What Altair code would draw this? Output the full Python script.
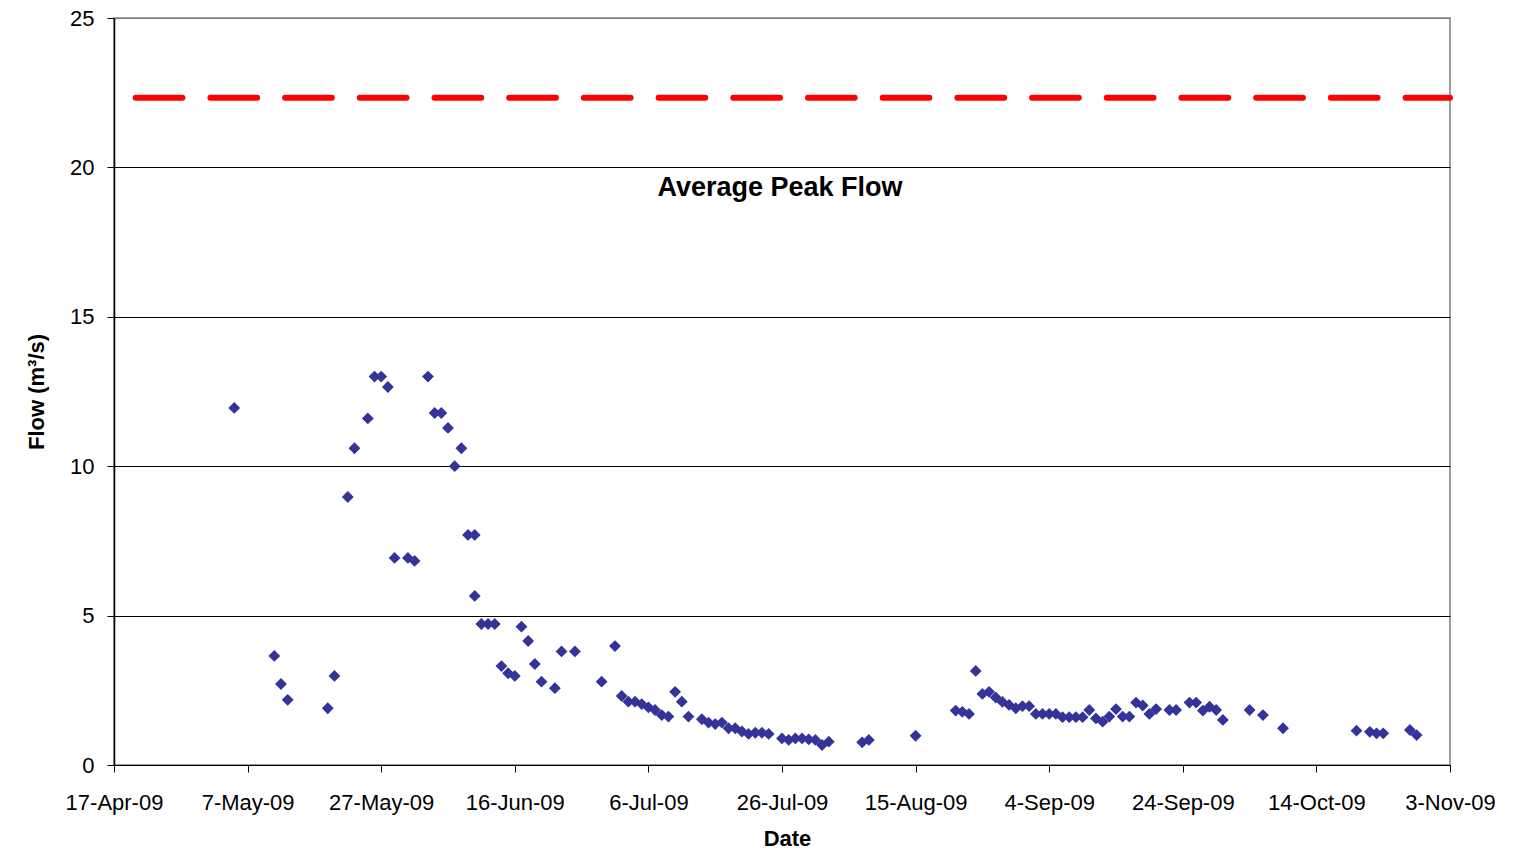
import altair as alt
import pandas as pd

# ---- data ----
dates = [
    "2009-05-05", "2009-05-11", "2009-05-12", "2009-05-13", "2009-05-19", "2009-05-20",
    "2009-05-22", "2009-05-23", "2009-05-25", "2009-05-26", "2009-05-27", "2009-05-28",
    "2009-05-29", "2009-05-31", "2009-06-01", "2009-06-03", "2009-06-04", "2009-06-05",
    "2009-06-06", "2009-06-07", "2009-06-08", "2009-06-09", "2009-06-10", "2009-06-10",
    "2009-06-11", "2009-06-12", "2009-06-13", "2009-06-14", "2009-06-15", "2009-06-16",
    "2009-06-17", "2009-06-18", "2009-06-19", "2009-06-20", "2009-06-22", "2009-06-23",
    "2009-06-25", "2009-06-29", "2009-07-01", "2009-07-02", "2009-07-03", "2009-07-04",
    "2009-07-05", "2009-07-06", "2009-07-07", "2009-07-08", "2009-07-09", "2009-07-10",
    "2009-07-11", "2009-07-12", "2009-07-14", "2009-07-15", "2009-07-16", "2009-07-17",
    "2009-07-18", "2009-07-19", "2009-07-20", "2009-07-21", "2009-07-22", "2009-07-23",
    "2009-07-24", "2009-07-26", "2009-07-27", "2009-07-28", "2009-07-29", "2009-07-30",
    "2009-07-31", "2009-08-01", "2009-08-02", "2009-08-07", "2009-08-08", "2009-08-15",
    "2009-08-21", "2009-08-22", "2009-08-23", "2009-08-24", "2009-08-25", "2009-08-26",
    "2009-08-27", "2009-08-28", "2009-08-29", "2009-08-30", "2009-08-31", "2009-09-01",
    "2009-09-02", "2009-09-03", "2009-09-04", "2009-09-05", "2009-09-06", "2009-09-07",
    "2009-09-08", "2009-09-09", "2009-09-10", "2009-09-11", "2009-09-12", "2009-09-13",
    "2009-09-14", "2009-09-15", "2009-09-16", "2009-09-17", "2009-09-18", "2009-09-19",
    "2009-09-20", "2009-09-22", "2009-09-23", "2009-09-25", "2009-09-26", "2009-09-27",
    "2009-09-28", "2009-09-29", "2009-09-30", "2009-10-04", "2009-10-06", "2009-10-09",
    "2009-10-20", "2009-10-22", "2009-10-23", "2009-10-24", "2009-10-28", "2009-10-29",
]
flow = [
    11.95, 3.65, 2.71, 2.18, 1.90, 2.98,
    8.97, 10.6, 11.6, 13.0, 13.0, 12.65,
    6.93, 6.93, 6.83, 13.0, 11.78, 11.78,
    11.28, 10.0, 10.6, 7.7, 7.7, 5.66,
    4.72, 4.72, 4.72, 3.31, 3.07, 2.98,
    4.63, 4.15, 3.38, 2.79, 2.57, 3.80,
    3.80, 2.79, 3.98, 2.31, 2.12, 2.12,
    2.04, 1.93, 1.84, 1.67, 1.62, 2.45,
    2.12, 1.62, 1.53, 1.42, 1.37, 1.42,
    1.23, 1.23, 1.12, 1.04, 1.08, 1.08,
    1.04, 0.89, 0.84, 0.89, 0.89, 0.86,
    0.84, 0.67, 0.78, 0.76, 0.84, 0.98,
    1.82, 1.78, 1.71, 3.15, 2.38, 2.45,
    2.26, 2.11, 2.01, 1.90, 1.97, 1.97,
    1.71, 1.71, 1.71, 1.71, 1.60, 1.60,
    1.60, 1.60, 1.84, 1.56, 1.45, 1.62,
    1.87, 1.62, 1.62, 2.09, 1.99, 1.71,
    1.87, 1.84, 1.84, 2.09, 2.09, 1.82,
    1.95, 1.84, 1.51, 1.84, 1.67, 1.23,
    1.15, 1.11, 1.06, 1.06, 1.17, 1.00,
]
avg_peak_flow = [22.33]
tick_dates = ["2009-04-17", "2009-05-07", "2009-05-27", "2009-06-16", "2009-07-06",
              "2009-07-26", "2009-08-15", "2009-09-04", "2009-09-24", "2009-10-14",
              "2009-11-03"]
y_ticks = [0, 5, 10, 15, 20, 25]
label_text = ["Average Peak Flow"]
label_date = ["2009-07-26"]
label_flow = [19.05]

FONT = "Liberation Sans"


def dt(s):
    y, m, d = (int(v) for v in s.split("-"))
    return alt.DateTime(year=y, month=m, date=d, utc=True)


df = pd.DataFrame({"date": dates, "flow": flow})
avg_df = pd.DataFrame({"flow": avg_peak_flow})
lab_df = pd.DataFrame({"date": label_date, "flow": label_flow, "label": label_text})

x_scale = alt.Scale(type="utc", domain=[dt(tick_dates[0]), dt(tick_dates[-1])], nice=False)
y_scale = alt.Scale(domain=[y_ticks[0], y_ticks[-1]], nice=False, zero=True)

x_axis = alt.Axis(
    values=[dt(s) for s in tick_dates],
    labelExpr="utcFormat(datum.value, '%-d-%b-%y')",
    grid=False,
    domainColor="#000000", domainWidth=1,
    tickColor="#000000", tickSize=7, tickWidth=1,
    labelFont=FONT, labelFontSize=22, labelColor="#000000",
    labelBaseline="alphabetic", labelPadding=37,
    labelFlush=False, labelOverlap=False, labelBound=False,
    titleFont=FONT, titleFontSize=22, titleFontWeight="bold", titleColor="#000000",
    titleBaseline="alphabetic", titleY=80, titleX=673,
)
y_axis = alt.Axis(
    values=y_ticks,
    grid=True,
    gridColor={"condition": {"test": "datum.value === 25", "value": "#808080"}, "value": "#000000"},
    gridWidth=1,
    domainColor="#000000", domainWidth=1.5,
    tickColor="#000000", tickSize=7, tickWidth=1,
    labelFont=FONT, labelFontSize=22, labelColor="#000000", labelPadding=13,
    titleFont=FONT, titleFontSize=22, titleFontWeight="bold", titleColor="#000000",
    titleBaseline="alphabetic", titleX=-71, titleAngle=270,
)

avg_rule = alt.Chart(avg_df).mark_rule(
    color="#FF0000", strokeWidth=6, strokeDash=[46.7, 28], strokeDashOffset=2.3, strokeCap="round"
).encode(y=alt.Y("flow:Q", scale=y_scale, axis=y_axis, title="Flow (m³/s)"))

points = alt.Chart(df).mark_point(
    shape="diamond", filled=True, size=140, color="#333399", opacity=1, strokeWidth=0
).encode(
    x=alt.X("date:T", scale=x_scale, axis=x_axis, title="Date"),
    y=alt.Y("flow:Q", scale=y_scale, axis=y_axis, title="Flow (m³/s)"),
)

label = alt.Chart(lab_df).mark_text(
    font=FONT, fontSize=27, fontWeight="bold", color="#000000", align="center", baseline="alphabetic",
    dx=-2,
).encode(
    x=alt.X("date:T", scale=x_scale),
    y=alt.Y("flow:Q", scale=y_scale),
    text="label:N",
)

chart = alt.layer(avg_rule, points, label).properties(
    width=1336, height=747,
    autosize=alt.AutoSizeParams(type="none"),
    padding={"left": 106, "top": 10, "right": 81, "bottom": 81},
).configure(font=FONT).configure_view(stroke="#808080", strokeWidth=1.5)

chart.save("out.html", embed_options={"renderer": "svg", "actions": False})
